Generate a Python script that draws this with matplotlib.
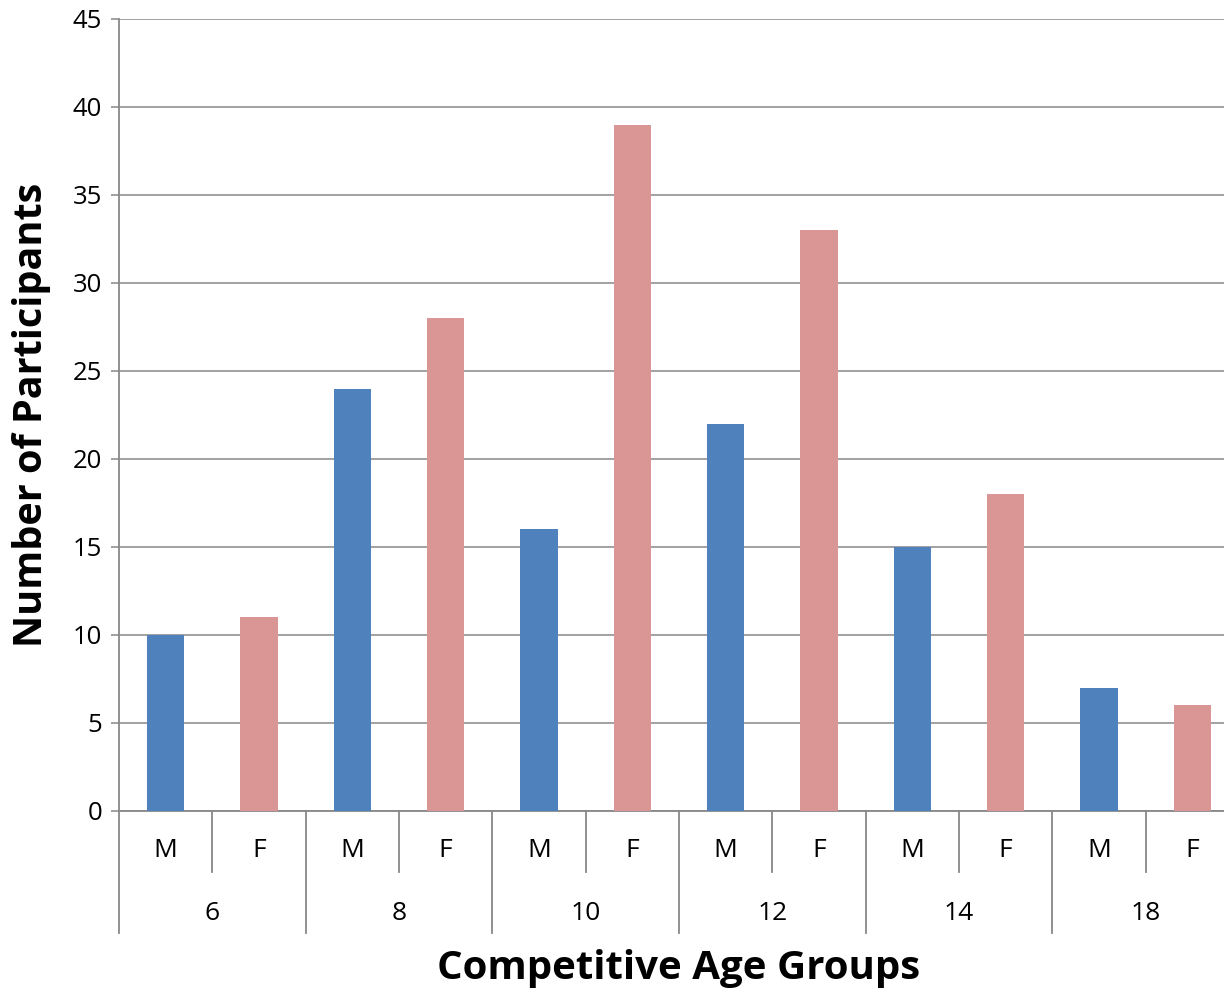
import matplotlib.pyplot as plt
import matplotlib.transforms as mtransforms

# data
age_groups = ['6', '8', '10', '12', '14', '18']
genders = ['M', 'F']
values = [10, 11, 24, 28, 16, 39, 22, 33, 15, 18, 7, 6]
colors = {'M': '#4F81BD', 'F': '#D99694'}

plt.rcParams['font.family'] = ['Open Sans', 'DejaVu Sans']
grid_col = '#888888'

fig = plt.figure(figsize=(12.24, 9.94), dpi=100)
ax = fig.add_axes([119 / 1224, 1 - 811 / 994, 1120 / 1224, 792 / 994])

n = len(values)
xs = list(range(n))
bar_colors = [colors[genders[i % 2]] for i in xs]
ax.bar(xs, values, width=0.4, color=bar_colors, zorder=3)

ax.set_xlim(-0.5, n - 0.5)
ax.set_ylim(0, 45)
ax.set_yticks(range(0, 46, 5))
ax.tick_params(axis='y', length=6, width=1.1, color=grid_col, labelsize=18.5, pad=6)
ax.set_xticks([])
ax.yaxis.grid(True, color=grid_col, linewidth=1.1, zorder=0)
ax.set_axisbelow(True)

for s in ['top', 'right']:
    ax.spines[s].set_visible(False)
for s in ['left', 'bottom']:
    ax.spines[s].set_color(grid_col)
    ax.spines[s].set_linewidth(1.3)

# hierarchical category axis
trans = mtransforms.blended_transform_factory(ax.transData, ax.transAxes)
for i in xs:
    ax.text(i, -0.0505, genders[i % 2], transform=trans, ha='center', va='center', fontsize=19)
    if i % 2 == 1:
        ax.plot([i - 0.5, i - 0.5], [0, -0.077], transform=trans, color=grid_col,
                linewidth=1.3, clip_on=False)
for g, label in enumerate(age_groups):
    ax.text(2 * g + 0.5, -0.129, label, transform=trans, ha='center', va='center', fontsize=19)
    ax.plot([2 * g - 0.5, 2 * g - 0.5], [0, -0.154], transform=trans, color=grid_col,
            linewidth=1.3, clip_on=False)

fig.text(679 / 1224, 1 - 968 / 994, 'Competitive Age Groups', ha='center', va='center',
         fontsize=29, fontweight='bold')
fig.text(32 / 1224, 1 - 415 / 994, 'Number of Participants', ha='center', va='center',
         fontsize=28.5, fontweight='bold', rotation=90)

fig.savefig('out.png', dpi=100)
